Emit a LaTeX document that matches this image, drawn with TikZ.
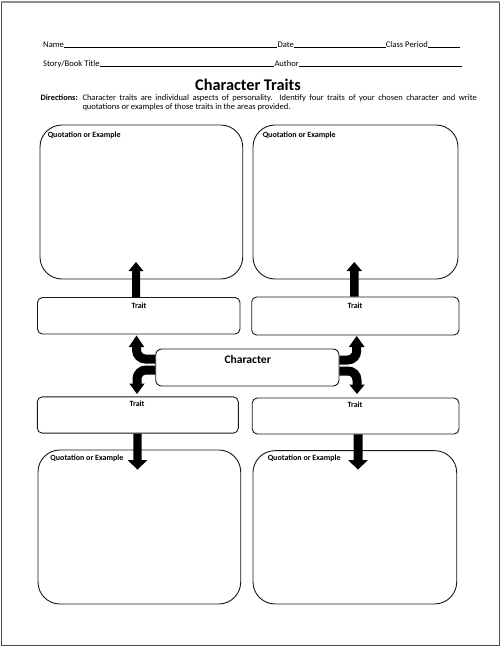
\documentclass[tikz,border=0pt]{standalone}
\usepackage{fontspec}
\setmainfont{Carlito}
\begin{document}
\begin{tikzpicture}[x=1pt,y=-1pt,
  lbl/.style={inner sep=0pt, font=\fontsize{8.6}{10}\selectfont},
  qbox/.style={draw=black!90, line width=0.9pt, rounded corners=22pt, inner sep=0pt},
  tbox/.style={draw=black!90, line width=0.9pt, rounded corners=5pt, inner sep=0pt},
  qlabel/.style={inner sep=0pt, font=\bfseries\fontsize{8}{9}\selectfont},
  band/.style={line width=9pt, rounded corners=9pt, line cap=butt},
  ul/.style={line width=0.5pt}
]
\useasboundingbox (0,0) rectangle (500,648);
% frame
\draw[black!70, line width=1pt] (1.5,2) rectangle (499,645);
\draw[black!45, line width=2pt] (0.5,1.5) -- (499.5,1.5);

% header
\node[lbl, anchor=base west] (name) at (43,47) {Name};
\node[lbl, anchor=base west] (date) at (277.3,47) {Date};
\node[lbl, anchor=base west] (period) at (385.7,47) {Class Period};
\coordinate (periodend) at (460,47);
\draw[ul] (name.base east) -- (date.base west);
\draw[ul] (date.base east) -- (period.base west);
\draw[ul] (period.base east) -- (periodend);
\node[lbl, anchor=base west] (title) at (43,66) {Story/Book Title};
\node[lbl, anchor=base west] (author) at (274.3,66) {Author};
\coordinate (authorend) at (461.7,66);
\draw[ul] (title.base east) -- (author.base west);
\draw[ul] (author.base east) -- (authorend);

\node[inner sep=0pt, font=\bfseries\fontsize{16.3}{18}\selectfont] (heading) at (248,84.5) {Character Traits};

\node[lbl, anchor=base west, font=\bfseries\fontsize{8.3}{10}\selectfont] (dirs) at (40.5,100.5) {Directions:};
\node[lbl, anchor=base west, font=\fontsize{8.5}{10}\selectfont] (dl1) at (82.3,100.5) {\makebox[394.4pt][s]{Character traits are individual aspects of personality.\ \ Identify four traits of your chosen character and write}};
\node[lbl, anchor=base west, font=\fontsize{8.5}{10}\selectfont] (dl2) at (82.3,109.5) {quotations or examples of those traits in the areas provided.};

% quotation boxes
\node[qbox, minimum width=202.7pt, minimum height=154pt] (q1) at (141.35,202) {};
\node[qbox, minimum width=205pt, minimum height=154pt] (q2) at (355.5,202) {};
\node[qbox, minimum width=202.7pt, minimum height=154pt] (q3) at (139.35,527) {};
\node[qbox, minimum width=203.7pt, minimum height=153.3pt] (q4) at (354.85,527.3) {};
\node[qlabel, anchor=west] (q1l) at ([xshift=8pt,yshift=-10.7pt]q1.north west) {Quotation or Example};
\node[qlabel, anchor=west] (q2l) at ([xshift=10pt,yshift=-10.7pt]q2.north west) {Quotation or Example};
\node[qlabel, anchor=west] (q3l) at ([xshift=12.7pt,yshift=-9pt]q3.north west) {Quotation or Example};
\node[qlabel, anchor=west] (q4l) at ([xshift=15pt,yshift=-8.5pt]q4.north west) {Quotation or Example};

% trait boxes
\node[tbox, minimum width=202.5pt, minimum height=36.5pt] (t1) at (138.75,315.75) {};
\node[tbox, minimum width=207.3pt, minimum height=38pt] (t2) at (355.35,316) {};
\node[tbox, minimum width=201pt, minimum height=36.3pt] (t3) at (137.8,415) {};
\node[tbox, minimum width=206.7pt, minimum height=36pt] (t4) at (355.6,416) {};
\node[qlabel] (t1l) at (139,305.7) {Trait};
\node[qlabel] (t2l) at (355,306) {Trait};
\node[qlabel] (t3l) at (137,404) {Trait};
\node[qlabel] (t4l) at (355,404.5) {Trait};

% character box
\node[tbox, rounded corners=6pt, minimum width=183.3pt, minimum height=37pt] (ch) at (247.35,367.5) {};
\node[inner sep=0pt, font=\bfseries\fontsize{11.6}{13}\selectfont] (chl) at (247.7,359) {Character};

% straight block arrows
\fill[black] (t1.north -| 132,0) -- (132,271) -- (128.5,271) -- (136,262) -- (143.5,271) -- (140,271) -- (t1.north -| 140,0) -- cycle;
\fill[black] (t2.north -| 350,0) -- (350,271) -- (346.5,271) -- (354.3,262) -- (362,271) -- (358.5,271) -- (t2.north -| 358.5,0) -- cycle;
\fill[black] (t3.south -| 133.3,0) -- (133.3,460) -- (127.5,460) -- (137.5,469.5) -- (147.5,460) -- (141.7,460) -- (t3.south -| 141.7,0) -- cycle;
\fill[black] (t4.south -| 353.5,0) -- (353.5,460) -- (348,460) -- (358,469.5) -- (368,460) -- (362.5,460) -- (t4.south -| 362.5,0) -- cycle;

% curved block arrows from character
\draw[band] (ch.west |- 0,359) -- (136.5,359) -- (136.5,346);
\fill[black] (128.8,347) -- (144.2,347) -- (136.5,335.5) -- cycle;
\draw[band] (ch.west |- 0,370) -- (137,370) -- (137,384.5);
\fill[black] (129.3,383.5) -- (144.7,383.5) -- (137,394) -- cycle;
\draw[band] (ch.east |- 0,360) -- (356.7,360) -- (356.7,346);
\fill[black] (348.8,347) -- (364.6,347) -- (356.7,336) -- cycle;
\draw[band] (ch.east |- 0,371) -- (357,371) -- (357,385.5);
\fill[black] (349.2,384.5) -- (364.8,384.5) -- (357,394) -- cycle;
\end{tikzpicture}
\end{document}
